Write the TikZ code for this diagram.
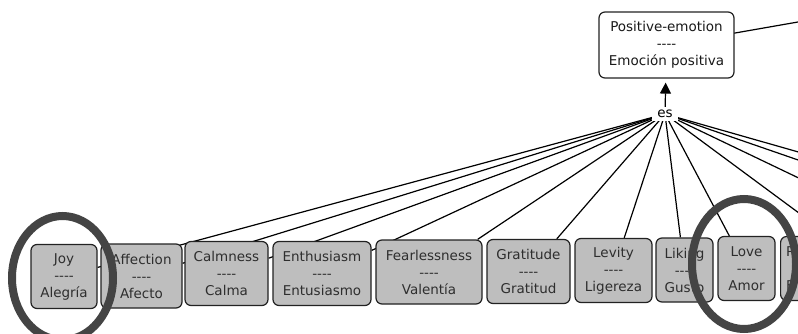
\documentclass[tikz,border=0pt]{standalone}
\usepackage{fontspec}
\usetikzlibrary{arrows.meta,backgrounds}
\newfontfamily\dvsans{DejaVu Sans}
\definecolor{boxgray}{HTML}{BEBEBE}
\definecolor{txtgray}{HTML}{2E2E2E}
\definecolor{ringgray}{HTML}{444444}
\definecolor{edgegray}{HTML}{222222}
\tikzset{
  concept/.style={draw=edgegray, line width=1.2pt, fill=boxgray, rounded corners=6pt,
    align=center, font=\dvsans\fontsize{13.5}{17}\selectfont, text=txtgray,
    inner sep=0pt, minimum height=64pt},
  topconcept/.style={concept, fill=white, text=black!90, minimum height=66pt},
  linkword/.style={fill=white, font=\dvsans\fontsize{13.5}{17}\selectfont, text=black,
    inner xsep=5pt, inner ysep=3pt},
  conn/.style={draw=black, line width=1.2pt},
  ring/.style={draw=ringgray, line width=8pt}
}
\begin{document}
\begin{tikzpicture}[x=1pt,y=-1pt]
\useasboundingbox (0,0) rectangle (798,334);
\clip (0,0) rectangle (798,334);
% concepts
\node[topconcept, minimum width=135pt] (top) at (666.5,45) {Positive-emotion\\----\\Emoción positiva};
\node[linkword] (es) at (665,114) {es};
\node[concept, minimum width=66pt] (joy) at (64,276.5) {Joy\\----\\Alegría};
\node[concept, minimum width=81pt] (aff) at (141.5,276) {Affection\\----\\Afecto};
\node[concept, minimum width=83pt] (calm) at (226.5,273.5) {Calmness\\----\\Calma};
\node[concept, minimum width=98pt] (enth) at (322,273.5) {Enthusiasm\\----\\Entusiasmo};
\node[concept, minimum width=106pt] (fear) at (429,272) {Fearlessness\\----\\Valentía};
\node[concept, minimum width=83pt] (grat) at (528.5,271.5) {Gratitude\\----\\Gratitud};
\node[concept, minimum width=77pt] (lev) at (613.5,270.5) {Levity\\----\\Ligereza};
\node[concept, minimum width=57pt] (lik) at (684.5,270) {Liking\\----\\Gusto};
\node[concept, minimum width=57pt] (love) at (746.5,268.5) {Love\\----\\Amor};
\node[concept, anchor=west, text width=70pt, align=left, inner xsep=5.5pt] (pbox) at (780,268.5) {P\\\mbox{}\\E};
% free ends of connectors leaving the picture
\coordinate (r0) at (830,16.4);
\coordinate (r1) at (830,161);
\coordinate (r2) at (830,171);
\coordinate (r3) at (830,193);
\coordinate (r4) at (830,236);
% arrow
\draw[conn, -{Triangle[width=11pt,length=11pt]}, shorten >=4pt] (es) -- (top);
% connectors behind the concepts
\begin{pgfonlayer}{background}
\fill[white] (0,0) rectangle (798,334);
\clip (0,0) rectangle (798,334);
\draw[conn] (top.center) -- (r0);
\foreach \t in {joy,aff,calm,enth,fear,grat,lev,lik,love,r1,r2,r3,r4}
  \draw[conn] (es.center) -- (\t);
\end{pgfonlayer}
% highlight rings
\draw[ring] (62.5,278) ellipse [x radius=50.5pt, y radius=62pt];
\draw[ring] (744,264) ellipse [x radius=52pt, y radius=65pt];
\end{tikzpicture}
\end{document}
